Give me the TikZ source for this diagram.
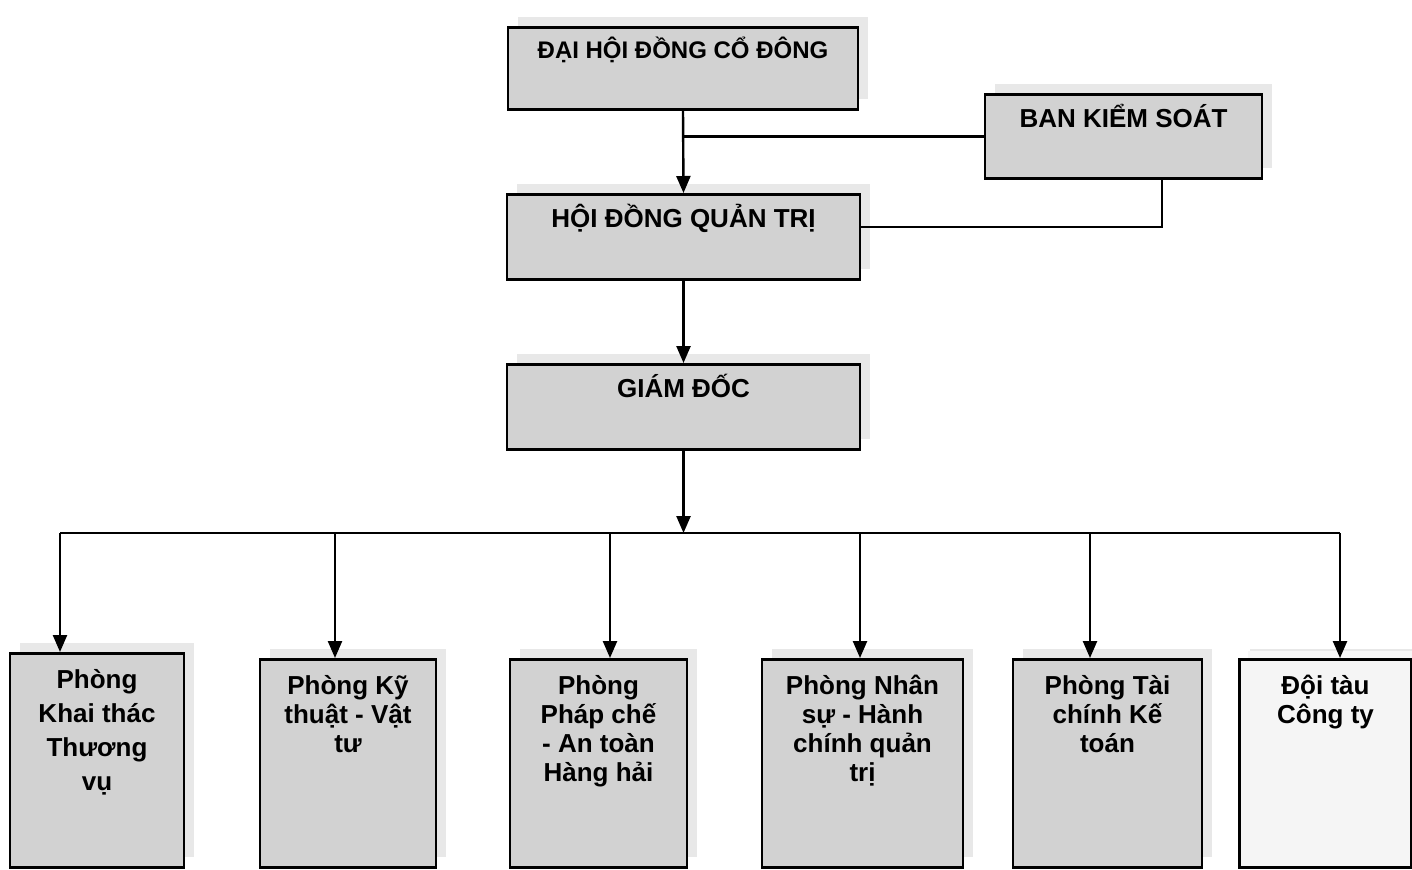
\documentclass[tikz,border=0pt]{standalone}
\usepackage{fontspec}
\setmainfont{Liberation Sans}
\usepackage{tikz}
\usetikzlibrary{arrows.meta,shadows}

\tikzset{
  unitbox/.style={draw=black, line width=1.4pt, fill=gray!35, anchor=north, inner sep=0pt,
    general shadow={fill=gray!18, shadow xshift=5pt, shadow yshift=5pt}},
  toptext/.style={anchor=north, yshift=-2pt, align=center, font={\bfseries\fontsize{13}{14.5}\selectfont}},
  depttext/.style={anchor=north, yshift=-5pt, align=center, font={\bfseries\fontsize{13}{14.5}\selectfont}},
  link/.style={line width=1.2pt},
  arrowlink/.style={line width=1.2pt, -{Triangle[width=7pt,length=8.5pt]}}
}

\begin{document}
\begin{tikzpicture}[x=0.5pt,y=-0.5pt]
\useasboundingbox (0,0) rectangle (1412,869);
\node[unitbox, minimum width=175pt, minimum height=41pt, label={[toptext, font={\bfseries\fontsize{12}{14}\selectfont}]north:ĐẠI HỘI ĐỒNG CỔ ĐÔNG}] (dhcd) at (683,26) {};
\node[unitbox, minimum width=138.5pt, minimum height=42pt, label={[toptext]north:BAN KIỂM SOÁT}] (bks) at (1123.5,93) {};
\node[unitbox, minimum width=176.5pt, minimum height=42.5pt, label={[toptext]north:HỘI ĐỒNG QUẢN TRỊ}] (hdqt) at (683.5,193) {};
\node[unitbox, minimum width=176.5pt, minimum height=42.5pt, label={[toptext]north:GIÁM ĐỐC}] (gd) at (683.5,363) {};

\node[unitbox, minimum width=87pt, minimum height=107pt, label={[depttext, font={\bfseries\fontsize{13}{17}\selectfont}]north:Phòng\\Khai thác\\Thương\\vụ}] (d1) at (97,652) {};
\node[unitbox, minimum width=88pt, minimum height=104pt, label={[depttext]north:Phòng Kỹ\\thuật - Vật\\tư}] (d2) at (348,658) {};
\node[unitbox, minimum width=88.5pt, minimum height=104pt, label={[depttext]north:Phòng\\Pháp chế\\- An toàn\\Hàng hải}] (d3) at (598.5,658) {};
\node[unitbox, minimum width=100.5pt, minimum height=104pt, label={[depttext]north:Phòng Nhân\\sự - Hành\\chính quản\\trị}] (d4) at (862.5,658) {};
\node[unitbox, minimum width=94.5pt, minimum height=104pt, label={[depttext]north:Phòng Tài\\chính Kế\\toán}] (d5) at (1107.5,658) {};
\node[unitbox, fill=gray!8, general shadow={fill=gray!6, shadow xshift=4pt, shadow yshift=4pt}, minimum width=86pt, minimum height=104pt, label={[depttext]north:Đội tàu\\Công ty}] (d6) at (1325.5,658) {};

\coordinate (k1) at (1162,227);
\coordinate (b1) at (60,533);
\coordinate (b2) at (335,533);
\coordinate (b3) at (610,533);
\coordinate (b4) at (860,533);
\coordinate (b5) at (1090,533);
\coordinate (b6) at (1340,533);

\draw[arrowlink] (dhcd.south) -- (hdqt.north);
\draw[link] (bks.west) -- (bks.west -| dhcd.south);
\draw[link] (k1 |- bks.south) -- (k1) -- (k1 -| hdqt.east);
\draw[arrowlink] (hdqt.south) -- (gd.north);
\draw[arrowlink] (gd.south) -- (gd.south |- b1);
\draw[link] (b1) -- (b6);
\foreach \i in {1,...,6}
  \draw[arrowlink] (b\i) -- (b\i |- d\i.north);
\end{tikzpicture}
\end{document}
